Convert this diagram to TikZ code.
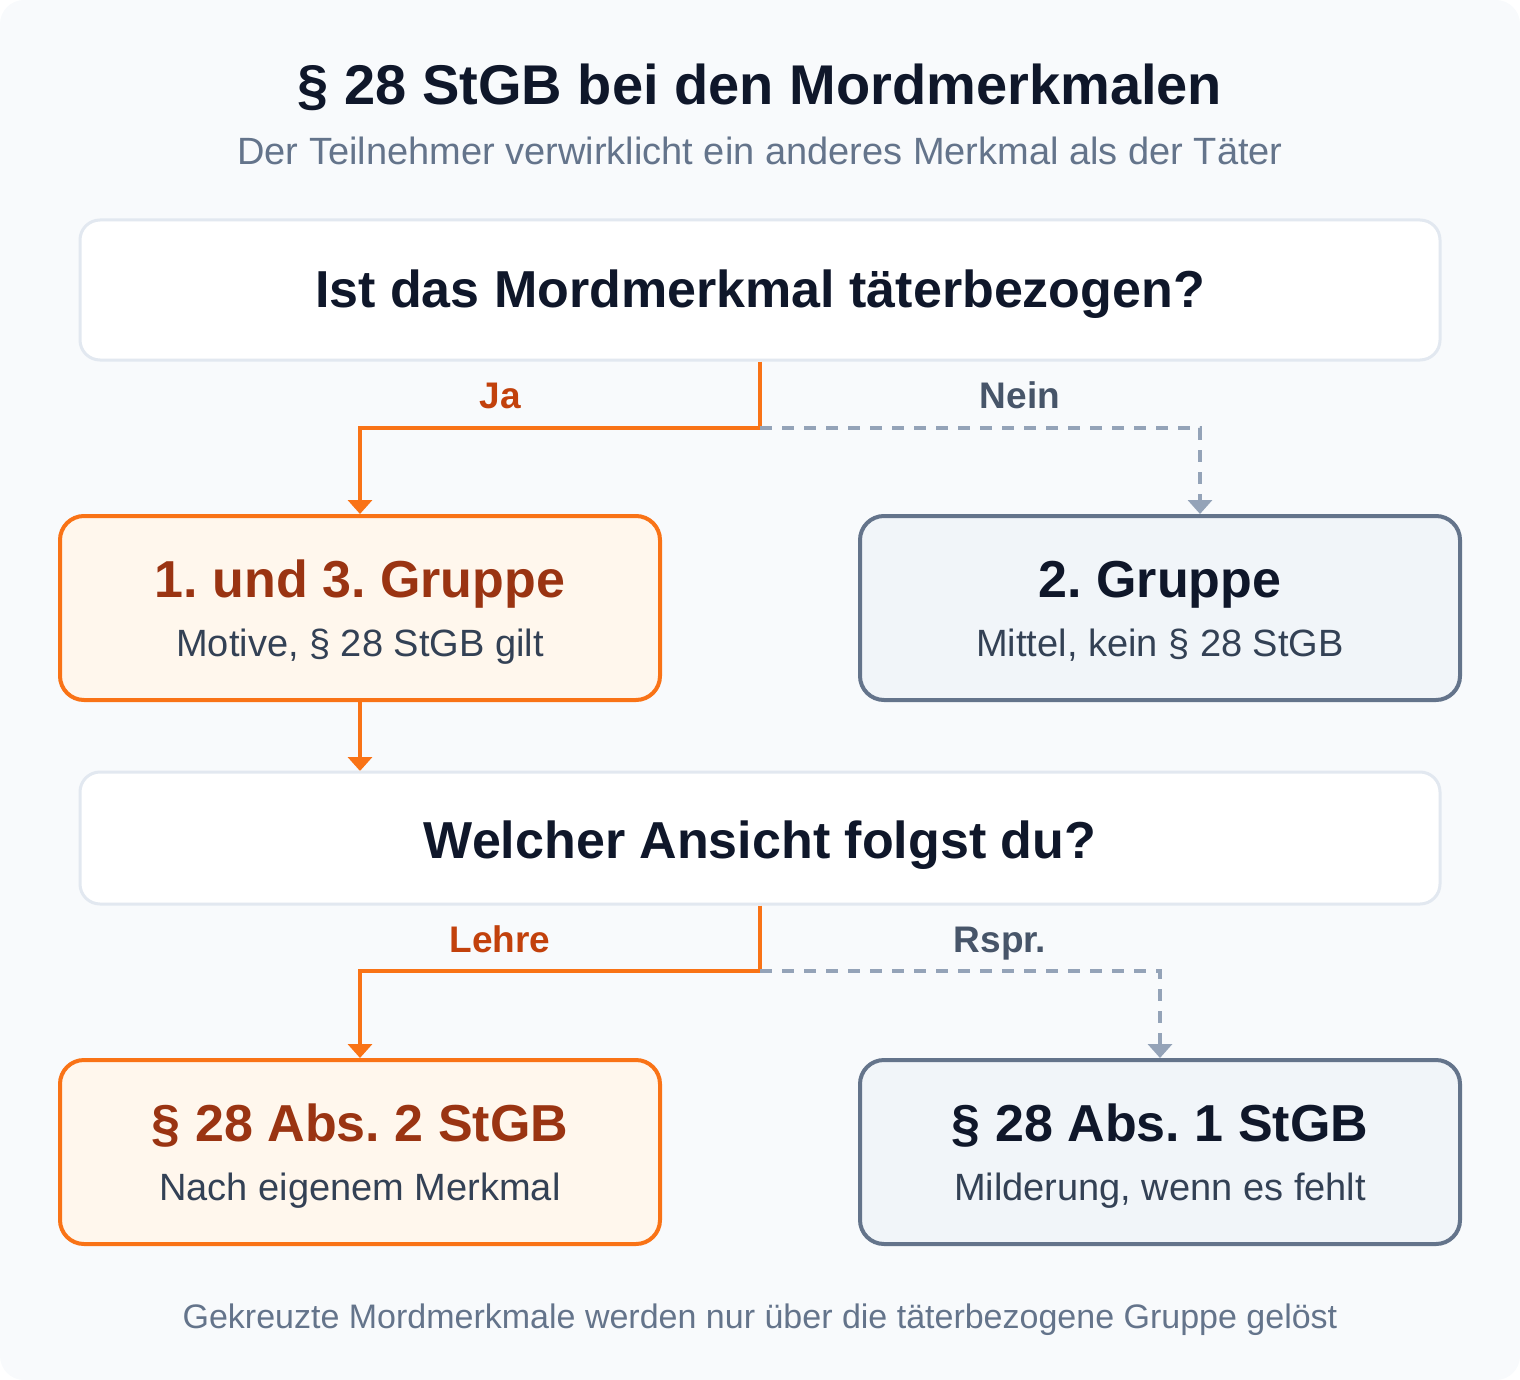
\documentclass[tikz,border=0pt]{standalone}
\usepackage{fontspec}
\setmainfont{Liberation Sans}
\usetikzlibrary{arrows.meta}
\frenchspacing

\definecolor{bgc}{HTML}{F8FAFC}
\definecolor{ink}{HTML}{0F172A}
\definecolor{muted}{HTML}{64748B}
\definecolor{subink}{HTML}{334155}
\definecolor{qline}{HTML}{E2E8F0}
\definecolor{orng}{HTML}{F97316}
\definecolor{orngfill}{HTML}{FFF7ED}
\definecolor{orngdark}{HTML}{9A3412}
\definecolor{orngtext}{HTML}{C2410C}
\definecolor{slate}{HTML}{64748B}
\definecolor{slatefill}{HTML}{F1F5F9}
\definecolor{dashc}{HTML}{94A3B8}
\definecolor{labgray}{HTML}{475569}

\begin{document}
\frenchspacing
\begin{tikzpicture}[x=0.5pt,y=-0.5pt,
  qbox/.style={draw=qline,line width=1.5pt,fill=white,rounded corners=10pt},
  obox/.style={draw=orng,line width=2pt,fill=orngfill,rounded corners=12pt,minimum width=300pt,minimum height=92pt},
  gbox/.style={draw=slate,line width=2pt,fill=slatefill,rounded corners=12pt,minimum width=300pt,minimum height=92pt},
  txt/.style={anchor=base,inner sep=0pt},
  head/.style={txt,font=\fontsize{26}{31}\selectfont\bfseries},
  sub/.style={txt,font=\fontsize{19}{23}\selectfont,text=subink},
  lab/.style={txt,font=\fontsize{18.5}{22}\selectfont\bfseries},
  yes/.style={draw=orng,line width=2pt,-{Triangle[width=12pt,length=7pt]}},
  no/.style={draw=dashc,line width=2pt,dash pattern=on 6pt off 5pt,-{Triangle[width=12pt,length=7pt]}}]
%\draw[help lines] (0,0) grid[step=100] (1520,1380);
\useasboundingbox (0,0) rectangle (1520,1380);
\fill[bgc,rounded corners=12pt] (0,0) rectangle (1520,1380);

\node (title) at (760,105) [txt,text=ink,font=\fontsize{28}{34}\selectfont\bfseries] {§ 28 StGB bei den Mordmerkmalen};
\node (subtitle) at (760,165) [txt,text=muted,font=\fontsize{19}{23}\selectfont] {Der Teilnehmer verwirklicht ein anderes Merkmal als der Täter};

% first question
\node (q1) at (760,290) [qbox,minimum width=680pt,minimum height=70pt] {};
\node (q1t) at (760,307) [head,text=ink] {Ist das Mordmerkmal täterbezogen?};

\node (l1) at (360,608) [obox] {};
\node (l1t) at (360,597) [head,text=orngdark] {1. und 3. Gruppe};
\node (l1s) at (360,656) [sub] {Motive, § 28 StGB gilt};

\node (r1) at (1160,608) [gbox] {};
\node (r1t) at (1160,597) [head,text=ink] {2. Gruppe};
\node (r1s) at (1160,656) [sub] {Mittel, kein § 28 StGB};

\draw [yes] (q1.south) -- ++(0,66.5) coordinate (jq1) -| (l1.north);
\draw [no] (jq1) -| ([xshift=20pt]r1.north);
\node (ja) at (500,408) [lab,text=orngtext] {Ja};
\node (nein) at (1020,408) [lab,text=labgray] {Nein};

\draw [yes] (l1.south) -- (l1.south |- {(0,771)});

% second question
\node (q2) at (760,838) [qbox,minimum width=680pt,minimum height=66pt] {};
\node (q2t) at (760,858) [head,text=ink] {Welcher Ansicht folgst du?};

\node (l2) at (360,1152) [obox] {};
\node (l2t) at (360,1141) [head,text=orngdark] {§ 28 Abs. 2 StGB};
\node (l2s) at (360,1200) [sub] {Nach eigenem Merkmal};

\node (r2) at (1160,1152) [gbox] {};
\node (r2t) at (1160,1141) [head,text=ink] {§ 28 Abs. 1 StGB};
\node (r2s) at (1160,1200) [sub] {Milderung, wenn es fehlt};

\draw [yes] (q2.south) -- ++(0,65.5) coordinate (jq2) -| (l2.north);
\draw [no] (jq2) -| (r2.north);
\node (lehre) at (500,952) [lab,text=orngtext] {Lehre};
\node (rspr) at (1000,952) [lab,text=labgray] {Rspr.};

\node (foot) at (760,1328) [txt,text=muted,font=\fontsize{17}{21}\selectfont] {Gekreuzte Mordmerkmale werden nur über die täterbezogene Gruppe gelöst};
\end{tikzpicture}
\end{document}
